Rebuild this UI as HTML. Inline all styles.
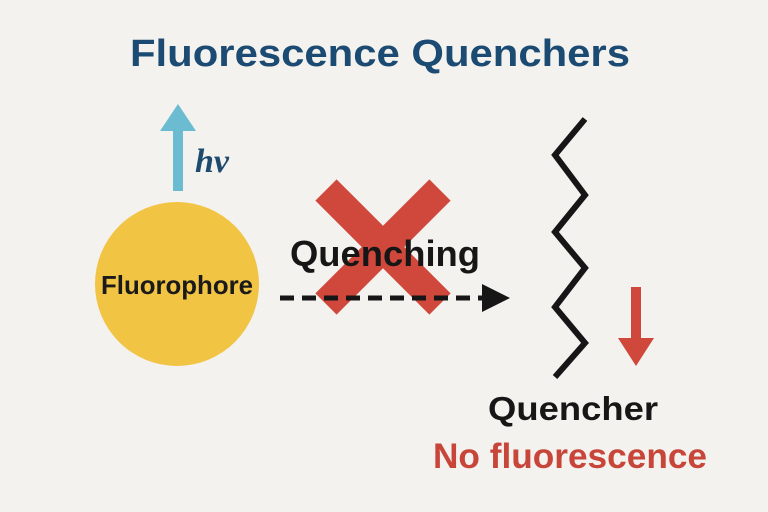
<!DOCTYPE html>
<html><head><meta charset="utf-8"><style>
html,body{margin:0;padding:0;background:#f4f2ee;}
svg{display:block}
</style></head><body>
<svg width="768" height="512" viewBox="0 0 768 512" xmlns="http://www.w3.org/2000/svg">
<rect width="768" height="512" fill="#f4f2ee"/>
<text x="380" y="66" text-anchor="middle" font-family="Liberation Sans, sans-serif" font-weight="bold" font-size="38" fill="#1b4a72" textLength="500" lengthAdjust="spacingAndGlyphs">Fluorescence Quenchers</text>
<!-- blue arrow -->
<rect x="173" y="129" width="10" height="62" fill="#6bbcd0"/>
<polygon points="160,131 196,131 178,104" fill="#6bbcd0"/>
<text x="195" y="172" font-family="Liberation Serif, serif" font-style="italic" font-weight="bold" font-size="34" fill="#1d4a6e">hv</text>
<!-- circle -->
<circle cx="177" cy="284" r="82" fill="#f2c444"/>
<text x="177" y="294" text-anchor="middle" font-family="Liberation Sans, sans-serif" font-weight="bold" font-size="26" fill="#1a1a1a" textLength="152" lengthAdjust="spacingAndGlyphs">Fluorophore</text>
<!-- red X -->
<line x1="326" y1="190" x2="440" y2="304" stroke="#d0473b" stroke-width="30"/>
<line x1="440" y1="190" x2="326" y2="304" stroke="#d0473b" stroke-width="30"/>
<text x="290" y="266" font-family="Liberation Sans, sans-serif" font-weight="bold" font-size="36" fill="#161616" textLength="190" lengthAdjust="spacingAndGlyphs">Quenching</text>
<!-- dashed arrow -->
<line x1="280" y1="298" x2="486" y2="298" stroke="#161616" stroke-width="5" stroke-dasharray="14 8"/>
<polygon points="482,284 510,298 482,312" fill="#161616"/>
<!-- zigzag -->
<polyline points="585,119 555,155 585,195 555,232 585,268 555,307 585,343 555,377" fill="none" stroke="#161616" stroke-width="6"/>
<!-- red down arrow -->
<rect x="631" y="287" width="10" height="53" fill="#d0473b"/>
<polygon points="618,338 654,338 636,366" fill="#d0473b"/>
<text x="573" y="420" text-anchor="middle" font-family="Liberation Sans, sans-serif" font-weight="bold" font-size="33" fill="#161616" textLength="170" lengthAdjust="spacingAndGlyphs">Quencher</text>
<text x="570" y="468" text-anchor="middle" font-family="Liberation Sans, sans-serif" font-weight="bold" font-size="35" fill="#c8453a" textLength="274" lengthAdjust="spacingAndGlyphs">No fluorescence</text>
</svg>
</body></html>
